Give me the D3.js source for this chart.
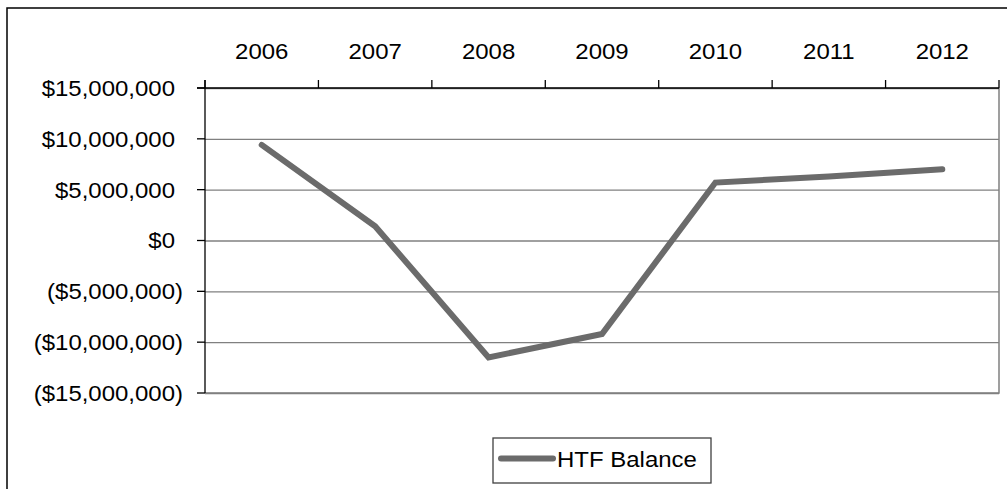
<!DOCTYPE html>
<html>
<head>
<meta charset="utf-8">
<script src="https://cdn.jsdelivr.net/npm/d3@7"></script>
<style>
  html, body { margin: 0; padding: 0; background: #fff; }
  text { font-family: "Liberation Sans", Arial, sans-serif; }
</style>
</head>
<body>
<div id="chart"></div>
<script>
// chart data
const years = ["2006", "2007", "2008", "2009", "2010", "2011", "2012"];
const balance = [9400000, 1400000, -11500000, -9200000, 5700000, 6300000, 7000000];
const yTicks = [15000000, 10000000, 5000000, 0, -5000000, -10000000, -15000000];
const seriesName = "HTF Balance";

const width = 1007, height = 489;
const plot = { left: 205, right: 999, top: 88, bottom: 393 };
const stretch = 1.09; // text looks slightly wide in the picture

const svg = d3.select("#chart").append("svg")
    .attr("width", width)
    .attr("height", height);

// outer frame (runs off the right and bottom edge)
svg.append("rect")
    .attr("x", 7).attr("y", 8)
    .attr("width", 1020).attr("height", 500)
    .attr("fill", "none")
    .attr("stroke", "#000")
    .attr("stroke-width", 1.5);

const x = d3.scaleBand().domain(years).range([plot.left, plot.right]);
const y = d3.scaleLinear().domain([-15000000, 15000000]).range([plot.bottom, plot.top]);

// gridlines
svg.append("g")
    .attr("transform", `translate(${plot.left},0)`)
    .call(d3.axisLeft(y).tickValues(yTicks).tickSize(-(plot.right - plot.left)).tickFormat(""))
    .call(g => g.select(".domain").remove())
    .call(g => g.selectAll("line").attr("stroke", "#808080").attr("stroke-width", 1.3));

// plot area border (right + bottom)
svg.append("path")
    .attr("d", `M${plot.right},${plot.top}V${plot.bottom}H${plot.left}`)
    .attr("fill", "none")
    .attr("stroke", "#808080")
    .attr("stroke-width", 1.5);

// value axis
const fmtNum = d3.format(",");
const yAxis = svg.append("g").attr("transform", `translate(${plot.left},0)`);
yAxis.append("line")
    .attr("y1", plot.top - 8).attr("y2", plot.bottom)
    .attr("stroke", "#000").attr("stroke-width", 1.3);
yAxis.selectAll(".ytick").data(yTicks).enter().append("line")
    .attr("x1", -8).attr("x2", 0)
    .attr("y1", d => y(d)).attr("y2", d => y(d))
    .attr("stroke", "#000").attr("stroke-width", 1.3);

const yLabels = svg.append("g").selectAll("text").data(yTicks).enter().append("text")
    .attr("transform", d => `translate(183,${y(d)}) scale(${stretch},1)`)
    .attr("dy", "0.36em")
    .attr("text-anchor", "end")
    .attr("font-size", 22)
    .attr("fill", "#000");
yLabels.each(function(d) {
    const t = d3.select(this);
    if (d < 0) {
        t.text("($" + fmtNum(-d) + ")");
    } else {
        t.append("tspan").text("$" + fmtNum(d));
        t.append("tspan").attr("fill-opacity", 0).text(")");
    }
});

// category axis on top
const xAxis = svg.append("g");
xAxis.append("line")
    .attr("x1", plot.left - 8).attr("x2", plot.right)
    .attr("y1", plot.top).attr("y2", plot.top)
    .attr("stroke", "#000").attr("stroke-width", 1.3);
xAxis.selectAll(".xtick").data(years.concat(["end"])).enter().append("line")
    .attr("x1", d => d === "end" ? plot.right : x(d))
    .attr("x2", d => d === "end" ? plot.right : x(d))
    .attr("y1", plot.top - 8).attr("y2", plot.top)
    .attr("stroke", "#000").attr("stroke-width", 1.3);
xAxis.selectAll("text").data(years).enter().append("text")
    .attr("transform", d => `translate(${x(d) + x.bandwidth() / 2},51) scale(${stretch},1)`)
    .attr("dy", "0.36em")
    .attr("text-anchor", "middle")
    .attr("font-size", 22)
    .attr("fill", "#000")
    .text(d => d);

// series line
const line = d3.line()
    .x((d, i) => x(years[i]) + x.bandwidth() / 2)
    .y(d => y(d));

svg.append("path")
    .datum(balance)
    .attr("d", line)
    .attr("fill", "none")
    .attr("stroke", "#6b6b6b")
    .attr("stroke-width", 6)
    .attr("stroke-linecap", "round")
    .attr("stroke-linejoin", "miter");

// legend
const legend = svg.append("g").attr("transform", "translate(493,438)");
legend.append("rect")
    .attr("width", 218).attr("height", 45)
    .attr("fill", "#fff")
    .attr("stroke", "#404040")
    .attr("stroke-width", 1.3);
legend.append("line")
    .attr("x1", 8).attr("x2", 60)
    .attr("y1", 20.5).attr("y2", 20.5)
    .attr("stroke", "#6b6b6b")
    .attr("stroke-width", 6)
    .attr("stroke-linecap", "round");
legend.append("text")
    .attr("transform", `translate(64,21) scale(${stretch},1)`)
    .attr("dy", "0.36em")
    .attr("font-size", 22)
    .attr("fill", "#000")
    .text(seriesName);
</script>
</body>
</html>
